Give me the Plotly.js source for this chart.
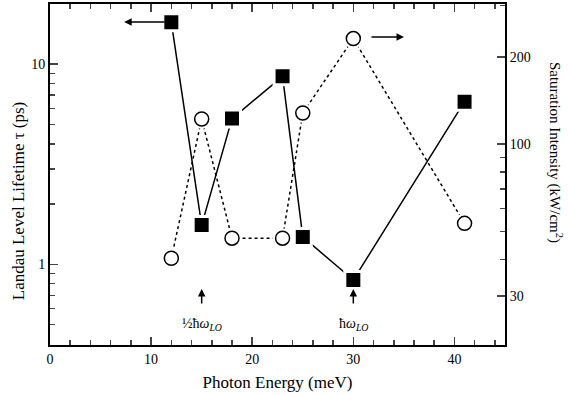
<!DOCTYPE html>
<html><head><meta charset="utf-8">
<script src="https://cdn.plot.ly/plotly-3.0.1.min.js"></script>
<style>html,body{margin:0;padding:0;background:#fff}#chart{width:568px;height:395px}</style>
</head><body><div id="chart"></div>
<script>
// Data
const energy = [12, 15, 18, 23, 25, 30, 41];           // photon energy (meV)
const lifetime = [16.2, 1.57, 5.35, 8.7, 1.37, 0.835, 6.5]; // Landau level lifetime (ps), filled squares
const saturation = [40.4, 122, 47.4, 47.4, 128, 231, 53.3]; // saturation intensity (kW/cm^2), open circles
const markLabels = ['½ħ<i>ω</i><sub><i>LO</i></sub>', 'ħ<i>ω</i><sub><i>LO</i></sub>'];
const markEnergies = [15, 30];

const serif = 'Liberation Serif, Times New Roman, serif';
const traces = [
  {x: energy, y: lifetime, yaxis: 'y', mode: 'lines+markers', type: 'scatter',
   line: {color: '#000', width: 1.5},
   marker: {symbol: 'square', size: 17, color: '#000', line: {color: '#fff', width: 3}},
   showlegend: false, hoverinfo: 'skip'},
  {x: energy, y: saturation, yaxis: 'y2', mode: 'lines+markers', type: 'scatter',
   line: {color: '#000', width: 1.5, dash: 'dot'},
   marker: {symbol: 'circle', size: 20, color: '#fff'},
   showlegend: false, hoverinfo: 'skip'},
  {x: energy, y: saturation, yaxis: 'y2', mode: 'markers', type: 'scatter',
   marker: {symbol: 'circle', size: 14, color: '#fff', line: {color: '#000', width: 1.5}},
   showlegend: false, hoverinfo: 'skip'}
];

const annotations = [
  {xref: 'paper', yref: 'paper', x: 0.163, y: 0.947, ax: 42, ay: 0, text: '', showarrow: true,
   arrowhead: 2, arrowsize: 1, arrowwidth: 1.5, arrowcolor: '#000'},
  {xref: 'paper', yref: 'paper', x: 0.778, y: 0.903, ax: -34, ay: 0, text: '', showarrow: true,
   arrowhead: 2, arrowsize: 1, arrowwidth: 1.5, arrowcolor: '#000'},
  {xref: 'paper', yref: 'paper', x: -0.070, y: 0.422, xanchor: 'center', yanchor: 'middle',
   text: 'Landau Level Lifetime τ (ps)',
   textangle: -90, showarrow: false, font: {family: serif, size: 17, color: '#000'}},
  {xref: 'paper', yref: 'paper', x: 1.110, y: 0.566, xanchor: 'center', yanchor: 'middle',
   text: 'Saturation Intensity (kW/cm<sup>2</sup>)',
   textangle: 90, showarrow: false, font: {family: serif, size: 15, color: '#000'}}
];
markEnergies.forEach((e, i) => {
  annotations.push({xref: 'x', yref: 'paper', x: e, y: 0.164, ax: 0, ay: 16, text: '', showarrow: true,
    arrowhead: 2, arrowsize: 1, arrowwidth: 1.5, arrowcolor: '#000'});
  annotations.push({xref: 'x', yref: 'paper', x: e, y: 0.059, xanchor: 'center', yanchor: 'middle',
    text: markLabels[i], showarrow: false,
    font: {family: serif, size: 14, color: '#000'}});
});

const layout = {
  width: 568, height: 395,
  margin: {l: 50, r: 63, t: 4, b: 50},
  paper_bgcolor: '#fff', plot_bgcolor: '#fff',
  font: {family: serif, color: '#000', size: 14},
  showlegend: false,
  xaxis: {range: [0, 45], tickvals: [0, 10, 20, 30, 40], ticks: 'inside', ticklen: 8, tickwidth: 1.5,
    showline: true, linewidth: 2, linecolor: '#000', mirror: 'ticks', showgrid: false, zeroline: false,
    minor: {tickvals: [2,4,6,8,12,14,16,18,22,24,26,28,32,34,36,38,42,44], ticks: 'inside', ticklen: 5, tickwidth: 1.5, showgrid: false},
    tickfont: {family: serif, size: 14},
    title: {text: 'Photon Energy (meV)', font: {family: serif, size: 17}, standoff: 10}},
  yaxis: {type: 'log', range: [Math.log10(0.395), Math.log10(20)], tickvals: [1, 10], ticktext: ['1', '10'],
    ticks: 'inside', ticklen: 8, tickwidth: 1.5, showline: true, linewidth: 2, linecolor: '#000',
    showgrid: false, zeroline: false,
    minor: {tickvals: [0.5,0.6,0.7,0.8,0.9,2,3,4,5,6,7,8,9], ticks: 'inside', ticklen: 5, tickwidth: 1.5, showgrid: false},
    tickfont: {family: serif, size: 14}},
  yaxis2: {type: 'log', overlaying: 'y', side: 'right', range: [Math.log10(20.3), Math.log10(304)],
    tickvals: [30, 100, 200], ticktext: ['30', '100', '200'],
    ticks: 'inside', ticklen: 8, tickwidth: 1.5, showline: true, linewidth: 2, linecolor: '#000',
    showgrid: false, zeroline: false,
    minor: {tickvals: [40,50,60,70,80,90,300], ticks: 'inside', ticklen: 5, tickwidth: 1.5, showgrid: false},
    tickfont: {family: serif, size: 14}},
  annotations: annotations
};
Plotly.newPlot('chart', traces, layout, {staticPlot: true, displayModeBar: false});
</script></body></html>
